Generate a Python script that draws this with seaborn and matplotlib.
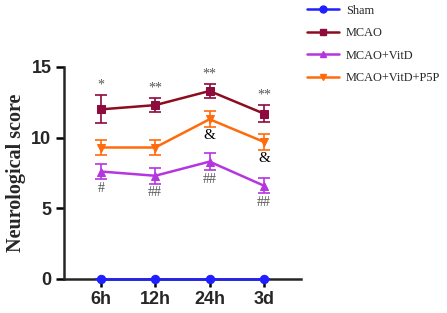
import numpy as np
import pandas as pd
import matplotlib
matplotlib.use('Agg')
import matplotlib.pyplot as plt
from matplotlib.lines import Line2D
import seaborn as sns

# ── data ──────────────────────────────────────────────────────────────────────
times = ['6h', '12h', '24h', '3d']
groups = ['Sham', 'MCAO', 'MCAO+VitD', 'MCAO+VitD+P5P']

sham      = [0.0, 0.0, 0.0, 0.0]
sham_err  = [0.0, 0.0, 0.0, 0.0]
mcao      = [12.0, 12.3, 13.3, 11.7]
mcao_err  = [1.0, 0.5, 0.5, 0.6]
vitd      = [7.6, 7.3, 8.3, 6.6]
vitd_err  = [0.55, 0.55, 0.6, 0.55]
p5p       = [9.3, 9.3, 11.3, 9.7]
p5p_err   = [0.55, 0.55, 0.55, 0.55]

mcao_marks = ['*', '**', '**', '**']
vitd_marks = ['#', '##', '##', '##']
p5p_marks  = ['', '', '&', '&']

colors  = {'Sham': '#1f1fff', 'MCAO': '#8e0b3e', 'MCAO+VitD': '#b535e0',
           'MCAO+VitD+P5P': '#ff6a0d'}
lines_c = {'Sham': '#1f1fff', 'MCAO': '#8b0d1e', 'MCAO+VitD': '#b535e0',
           'MCAO+VitD+P5P': '#ff6a0d'}
markers = {'Sham': 'o', 'MCAO': 's', 'MCAO+VitD': '^', 'MCAO+VitD+P5P': 'v'}

vals = {'Sham': sham, 'MCAO': mcao, 'MCAO+VitD': vitd, 'MCAO+VitD+P5P': p5p}
errs = {'Sham': sham_err, 'MCAO': mcao_err, 'MCAO+VitD': vitd_err,
        'MCAO+VitD+P5P': p5p_err}

rows = []
for g in groups:
    for i, t in enumerate(times):
        rows.append({'group': g, 'x': i, 'score': vals[g][i]})
df = pd.DataFrame(rows)

# ── plot ──────────────────────────────────────────────────────────────────────
sns.set_style('ticks')
serif = ['Liberation Serif', 'DejaVu Serif']
sans = ['Liberation Sans', 'DejaVu Sans']

fig = plt.figure(figsize=(4.47, 3.13), dpi=100)
ax = fig.add_axes([0.143, 0.109, 0.530, 0.677])

for g in groups[::-1]:
    sub = df[df.group == g]
    ax.errorbar(sub.x, sub.score, yerr=errs[g], fmt='none', ecolor=colors[g],
                elinewidth=1.2, capsize=4, capthick=1.2, zorder=3)
    sns.lineplot(data=sub, x='x', y='score', ax=ax, color=lines_c[g],
                 linewidth=1.8, marker=markers[g], markersize=6,
                 markerfacecolor=colors[g], markeredgecolor=colors[g],
                 zorder=5, legend=False, clip_on=False)

for i in range(len(times)):
    ax.text(i, mcao[i] + mcao_err[i] + 0.25, mcao_marks[i], ha='center',
            va='bottom', fontsize=10, color='#555555', family=serif)
    ax.text(i, vitd[i] - vitd_err[i] - 0.2, vitd_marks[i], ha='center',
            va='top', fontsize=10, color='#555555', family=serif)
    if p5p_marks[i]:
        ax.text(i, p5p[i] - p5p_err[i] - 0.15, p5p_marks[i], ha='center',
                va='top', fontsize=11, color='black', family=serif)

ax.set_xlim(-0.68, 3.68)
ax.set_ylim(0, 15)
ax.set_yticks([0, 5, 10, 15])
ax.set_xticks(range(len(times)))
ax.set_xticklabels(times)
for lab in ax.get_xticklabels() + ax.get_yticklabels():
    lab.set_fontweight('bold')
    lab.set_fontsize(13)
    lab.set_family(sans)
ax.set_xlabel('')
ax.set_ylabel('Neurological score', fontsize=14.5, fontweight='bold',
              family=serif, labelpad=4)
ax.tick_params(axis='both', width=1.8, length=6, color='black', pad=3)
ax.spines['left'].set_linewidth(1.8)
ax.spines['bottom'].set_linewidth(1.8)
ax.spines['top'].set_visible(False)
ax.spines['right'].set_visible(False)
ax.spines['left'].set_bounds(0, 15)

leg_handles = [Line2D([], [], color=lines_c[g], marker=markers[g],
                      markerfacecolor=colors[g], markeredgecolor=colors[g],
                      linewidth=1.8, markersize=5) for g in groups]
fig.legend(leg_handles, groups, loc='upper left', bbox_to_anchor=(0.662, 1.02),
           frameon=False, prop={'family': serif, 'size': 8.8},
           handlelength=2.6, labelspacing=0.85, handletextpad=0.6)

fig.savefig('out.png', dpi=100)
